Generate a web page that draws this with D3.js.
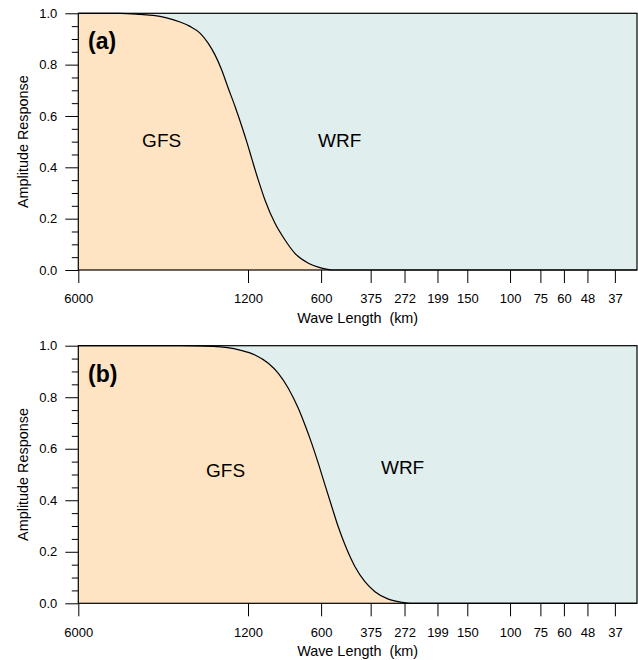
<!DOCTYPE html>
<html>
<head>
<meta charset="utf-8">
<script src="https://cdn.jsdelivr.net/npm/d3@7"></script>
<style>
  html, body { margin: 0; padding: 0; background: #fff; }
  svg { display: block; font-family: "Liberation Sans", Arial, Helvetica, sans-serif; }
</style>
</head>
<body>
<svg id="chart" width="638" height="660"></svg>
<script>
// Wavelength tick labels (km)
const waveTicks = [6000, 1200, 600, 375, 272, 199, 150, 100, 75, 60, 48, 37];
const responseTicks = [0, 0.2, 0.4, 0.6, 0.8, 1.0];

// Filter response, panel (a): wavelength (km) and amplitude
const waveA = [6000, 4040, 3341, 2945, 2595, 2287, 2081, 1892, 1749, 1641, 1540, 1447, 1357, 1274, 1215, 1159, 1089, 1022, 929, 845, 769, 677, 597, 540, 30];
const respA = [1.0, 1.0, 0.996, 0.992, 0.982, 0.966, 0.949, 0.923, 0.883, 0.838, 0.779, 0.708, 0.637, 0.561, 0.500, 0.435, 0.351, 0.273, 0.182, 0.117, 0.065, 0.026, 0.007, 0, 0];

// Filter response, panel (b)
const waveB = [6000, 2289, 1669, 1296, 1123, 990, 900, 819, 745, 699, 656, 616, 578, 542, 510, 478, 435, 396, 360, 317, 279, 255, 30];
const respB = [1.0, 1.0, 0.997, 0.983, 0.964, 0.932, 0.893, 0.835, 0.757, 0.692, 0.621, 0.543, 0.459, 0.375, 0.297, 0.226, 0.142, 0.084, 0.045, 0.016, 0.004, 0, 0];

const panelNames = ["(a)", "(b)"];
const regionNames = ["GFS", "WRF"];

const svg = d3.select("#chart");
const left = 78.3, right = 637;
const panels = [
  { name: panelNames[0], wave: waveA, resp: respA, top: 13.3, bottom: 270,
    gfsAt: [2722, 0.506], wrfAt: [503, 0.506] },
  { name: panelNames[1], wave: waveB, resp: respB, top: 345.7, bottom: 603.3,
    gfsAt: [1485, 0.517], wrfAt: [277, 0.529] }
];

const x = d3.scaleLog().domain([6000, 30]).range([left, right]);

panels.forEach(p => {
  const y = d3.scaleLinear().domain([0, 1]).range([p.bottom, p.top]);
  const pts = p.wave.map((w, i) => ({ w, r: p.resp[i] }));
  const g = svg.append("g");

  // WRF region (background above the curve)
  g.append("rect")
    .attr("x", left).attr("y", p.top)
    .attr("width", right - left).attr("height", p.bottom - p.top)
    .attr("fill", "#E0EEEE");

  // GFS region (below the curve)
  const area = d3.area()
    .x(d => x(d.w)).y0(y(0)).y1(d => y(d.r))
    .curve(d3.curveMonotoneX);
  g.append("path").datum(pts).attr("d", area).attr("fill", "#FFE4C4");

  const line = d3.line().x(d => x(d.w)).y(d => y(d.r)).curve(d3.curveMonotoneX);
  g.append("path").datum(pts).attr("d", line)
    .attr("fill", "none").attr("stroke", "#000").attr("stroke-width", 1.2);

  // Frame
  g.append("rect")
    .attr("x", left).attr("y", p.top)
    .attr("width", right - left).attr("height", p.bottom - p.top)
    .attr("fill", "none").attr("stroke", "#000").attr("stroke-width", 1.2);

  // Y axis: minor then major ticks
  const minor = d3.range(0, 1.0001, 0.05).filter(v => Math.abs(v * 5 - Math.round(v * 5)) > 1e-6);
  g.append("g").attr("transform", `translate(${left},0)`)
    .call(d3.axisLeft(y).tickValues(minor).tickSize(6.5).tickFormat(""))
    .call(a => a.select(".domain").remove())
    .call(a => a.selectAll("line").attr("stroke", "#000"));
  g.append("g").attr("transform", `translate(${left},0)`)
    .call(d3.axisLeft(y).tickValues(responseTicks).tickSize(13).tickPadding(8).tickFormat(d3.format(".1f")))
    .call(a => a.select(".domain").remove())
    .call(a => a.selectAll("line").attr("stroke", "#000"))
    .call(a => a.selectAll("text").attr("font-size", 13).attr("fill", "#000")
      .style("font-family", '"Liberation Sans", Arial, sans-serif'));

  // X axis
  g.append("g").attr("transform", `translate(0,${p.bottom})`)
    .call(d3.axisBottom(x).tickValues(waveTicks).tickSize(13).tickPadding(11).tickFormat(d3.format("d")))
    .call(a => a.select(".domain").remove())
    .call(a => a.selectAll("line").attr("stroke", "#000"))
    .call(a => a.selectAll("text").attr("font-size", 13).attr("fill", "#000")
      .style("font-family", '"Liberation Sans", Arial, sans-serif'));

  // Axis titles
  g.append("text")
    .attr("x", (left + right) / 2).attr("y", p.bottom + 53)
    .attr("text-anchor", "middle").attr("font-size", 14.4)
    .style("white-space", "pre")
    .text("Wave Length  (km)");
  g.append("text")
    .attr("transform", `translate(22.7,${(p.top + p.bottom) / 2}) rotate(-90)`)
    .attr("dy", "0.35em")
    .attr("text-anchor", "middle").attr("font-size", 14.4)
    .text("Amplitude Response");

  // Panel letter
  g.append("text")
    .attr("x", 88).attr("y", p.top + 36)
    .attr("font-size", 23).attr("font-weight", "bold")
    .text(p.name);

  // Region labels
  [p.gfsAt, p.wrfAt].forEach((pos, i) => {
    g.append("text")
      .attr("x", x(pos[0])).attr("y", y(pos[1]))
      .attr("dy", "0.35em").attr("text-anchor", "middle")
      .attr("font-size", 19)
      .text(regionNames[i]);
  });
});
</script>
</body>
</html>
